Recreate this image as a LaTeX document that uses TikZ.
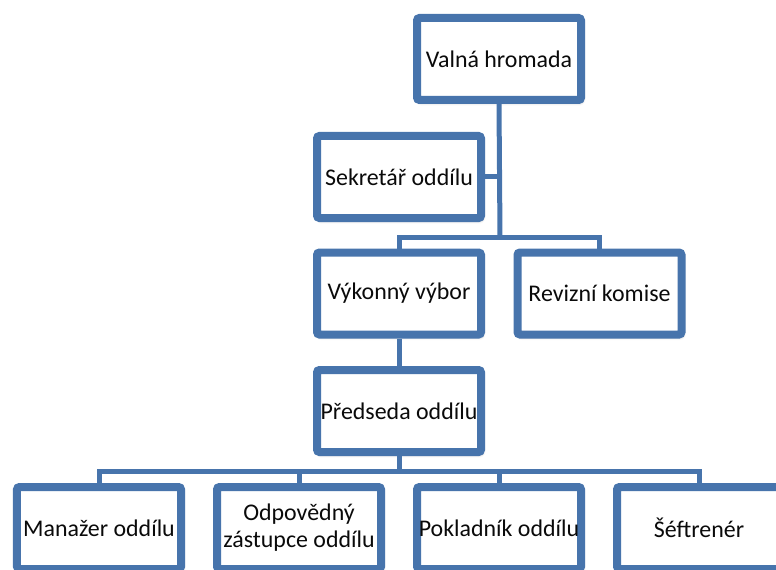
\documentclass[tikz,border=0pt]{standalone}
\usepackage{fontspec}
\setmainfont{Carlito}
\usetikzlibrary{shadows.blur}
\definecolor{orgblue}{HTML}{4774AC}
\definecolor{orgtext}{HTML}{0A0A0A}
\begin{document}
\begin{tikzpicture}[x=1bp,y=-1bp,
  orgbox/.style={draw=orgblue, fill=white, line width=8bp, rounded corners=2.5bp,
    minimum width=164bp, minimum height=82bp, inner sep=0bp, align=center,
    text=orgtext, font=\fontsize{24}{27}\selectfont,
    blur shadow={shadow xshift=1.5bp, shadow yshift=-2.5bp, shadow blur radius=3bp, shadow opacity=35}},
  link/.style={draw=orgblue, line width=5bp}]
\useasboundingbox (0,0) rectangle (776,570);
\begin{scope}
\clip (0,0) rectangle (776,570);

% upper levels
\node[orgbox] (valna) at (499,59) {Valná hromada};
\node[orgbox] (sekretar) at (399,177) {Sekretář oddílu};
\node[orgbox] (vykonny) at (399,293.5) {Výkonný výbor};
\node[orgbox] (revizni) at (599.5,293.5) {Revizní komise};
\node[orgbox] (predseda) at (399,411) {Předseda oddílu};

% bottom row
\node[orgbox] (manazer) at (99,528) {Manažer oddílu};
\node[orgbox] (odpov) at (299,528) {Odpovědný\\zástupce oddílu};
\node[orgbox] (pokl) at (499,528) {Pokladník oddílu};
\node[orgbox] (sef) at (699,528) {Šéftrenér};

% junctions
\coordinate (j1) at (500,237);
\coordinate (j2) at (399,471);

% connectors
\draw[link] (valna.south) -- (j1);
\draw[link] (sekretar.east) -- (sekretar.east -| j1);
\draw[link] (vykonny.north) |- (j1) -| (revizni.north);
\draw[link] (vykonny.south) -- (predseda.north);
\draw[link] (predseda.south) -- (j2);
\draw[link] (manazer.north) |- (j2) -| (sef.north);
\draw[link] (odpov.north) |- (j2);
\draw[link] (pokl.north) |- (j2);
\end{scope}
\end{tikzpicture}
\end{document}
